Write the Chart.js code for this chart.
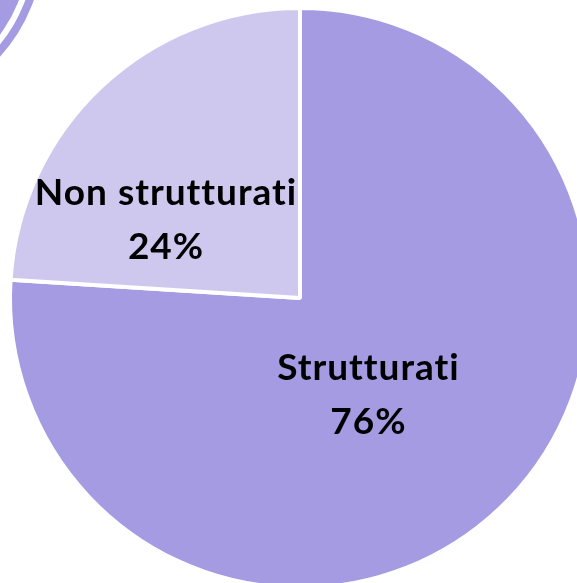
<!DOCTYPE html>
<html>
<head>
<meta charset="utf-8">
<script src="https://cdn.jsdelivr.net/npm/chart.js@4"></script>
<style>
  html, body { margin: 0; padding: 0; background: #ffffff; overflow: hidden; }
  #wrap { position: absolute; left: 0; top: 0; width: 600px; height: 600px; }
</style>
</head>
<body>
<div id="wrap"><canvas id="pieChart"></canvas></div>
<script>
// data
const categories = ['Strutturati', 'Non strutturati'];
const shares = [76, 24];
const sliceColors = ['#a59be2', '#cec8ef'];

// top-left slide decoration (two purple arcs behind the chart)
const decoration = {
    id: 'decoration',
    beforeDraw(chart) {
        const ctx = chart.ctx;
        ctx.save();
        ctx.fillStyle = '#a59be2';
        ctx.strokeStyle = '#a59be2';
        ctx.beginPath();
        ctx.arc(-121, -54, 150, 0, Math.PI * 2);
        ctx.fill();
        ctx.lineWidth = 8;
        ctx.beginPath();
        ctx.arc(-121, -54, 160, 0, Math.PI * 2);
        ctx.stroke();
        ctx.restore();
    }
};

// two-line labels ("name" / "pct%") placed relative to the pie radius
const sliceLabels = {
    id: 'sliceLabels',
    afterDatasetsDraw(chart, args, opts) {
        const ctx = chart.ctx;
        const meta = chart.getDatasetMeta(0);
        ctx.save();
        ctx.fillStyle = '#000000';
        ctx.font = 'bold 37px Lato';
        ctx.letterSpacing = '1px'; // also stops the "tt" ligature
        ctx.textAlign = 'center';
        ctx.textBaseline = 'alphabetic';
        meta.data.forEach((arc, i) => {
            const r = arc.outerRadius;
            const x = arc.x + opts.offsets[i][0] * r;
            const y = arc.y + opts.offsets[i][1] * r;
            ctx.fillText(categories[i], x, y - 14);
            ctx.fillText(shares[i] + '%', x, y + 40);
        });
        ctx.restore();
    }
};

const ctx = document.getElementById('pieChart').getContext('2d');
const pieChart = new Chart(ctx, {
    type: 'pie',
    data: {
        labels: categories,
        datasets: [{
            data: shares,
            backgroundColor: sliceColors,
            borderColor: '#ffffff',
            borderWidth: 4
        }]
    },
    options: {
        responsive: true,
        maintainAspectRatio: false,
        animation: false,
        layout: { padding: { left: 8, right: 8, top: 6, bottom: 10 } },
        plugins: {
            legend: { display: false },
            tooltip: { enabled: false },
            sliceLabels: { offsets: [[0.236, 0.33], [-0.462, -0.271]] }
        }
    },
    plugins: [decoration, sliceLabels]
});
</script>
</body>
</html>
